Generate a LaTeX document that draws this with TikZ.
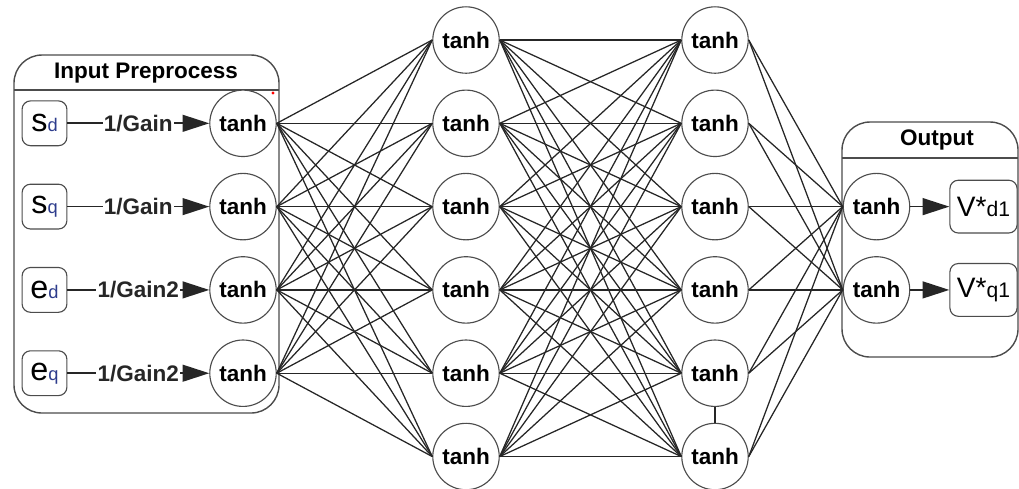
\documentclass[tikz,border=0pt]{standalone}
\usepackage{fontspec}
\setmainfont{Liberation Sans}
\usetikzlibrary{arrows.meta, positioning}
\definecolor{subblue}{RGB}{45,60,140}
\newcommand{\insig}[2]{{\fontsize{11.5}{13}\selectfont #1}{\fontsize{6.5}{7}\selectfont\color{subblue}#2}}
\newcommand{\outsig}[1]{{\fontsize{10}{12}\selectfont V*}{\fontsize{7.5}{8}\selectfont #1}}

\begin{document}
\begin{tikzpicture} [
						x=0.0125cm, y=-0.0125cm,
						neuron/.style={circle, draw=black!70, fill=white, minimum size=0.83cm, inner sep=0pt, font=\fontsize{8}{9}\selectfont\bfseries},
						port/.style={draw=black!70, fill=white, rounded corners=3pt, minimum width=0.56cm, minimum height=0.56cm, inner sep=1pt},
						outport/.style={port, minimum width=0.84cm, minimum height=0.66cm},
						frame/.style={draw=black!70, line width=0.5pt, rounded corners=0.35cm},
						title/.style={font=\fontsize{8}{9}\selectfont\bfseries},
						gain/.style={fill=white, inner sep=0.5pt, font=\fontsize{8}{9}\selectfont\bfseries},
						wire/.style={black!85, line width=0.45pt},
						head/.style={-{Triangle[length=9.5pt, width=6pt]}, black!85, line width=0.6pt}
					]

\useasboundingbox (0,0) rectangle (1019,488);

\draw[frame] (14,55) rectangle (279,413);
\draw[black!70] (14,90) -- (279,90);
\node (inhead) [title] at (146,73) {Input Preprocess};
\fill[red] (273,93) circle (0.6pt);

\draw[frame] (842,122) rectangle (1018,357);
\draw[black!70] (842,158) -- (1018,158);
\node (outhead) [title] at (937,140) {Output};

\foreach \i/\v/\w/\k in {1/s/d/Gain, 2/s/q/Gain, 3/e/d/Gain2, 4/e/q/Gain2} {
	\node (t\i) [neuron] at (243,{83.3*\i+40}) {tanh};
	\node (x\i) [port] at (44.5,{83.3*\i+40}) {\insig{\v}{\w}};
	\draw[head] (x\i) -- node[gain] {1/\k} (t\i);
}

\foreach \i in {1,...,6} {
	\node (h\i) [neuron] at (466,{83.3*\i-43.3}) {tanh};
	\node (g\i) [neuron] at (715,{83.3*\i-43.3}) {tanh};
}

\foreach \i/\w in {1/d1, 2/q1} {
	\node (o\i) [neuron] at (876.5,{83.3*\i+123.3}) {tanh};
	\node (v\i) [outport] at (983.5,{83.3*\i+123.3}) {\outsig{\w}};
	\draw[head] (o\i) -- (v\i);
}

\foreach \a in {1,...,4}
	\foreach \b in {1,...,6}
		\draw[wire] (t\a.east) -- (h\b.west);
\foreach \a in {1,...,6}
	\foreach \b in {1,...,6}
		\draw[wire] (h\a.east) -- (g\b.west);
\foreach \a in {1,...,6}
	\foreach \b in {1,2}
		\draw[wire] (g\a.east) -- (o\b.west);
\draw[wire] (g5) -- (g6);
\end{tikzpicture}
\end{document}
